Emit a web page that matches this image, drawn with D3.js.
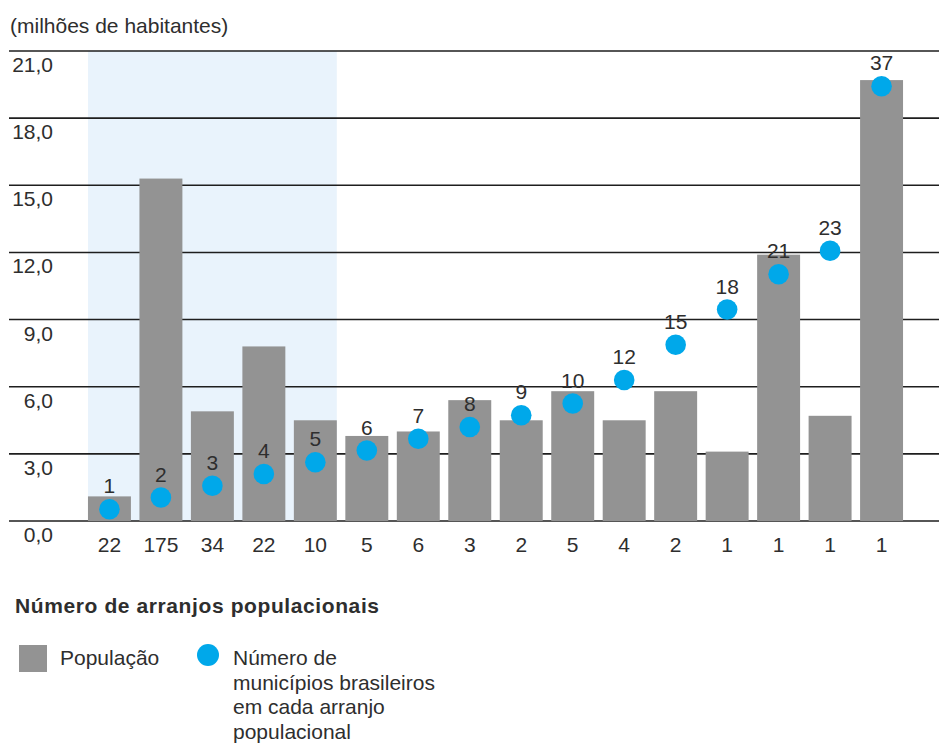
<!DOCTYPE html>
<html>
<head>
<meta charset="utf-8">
<script src="https://cdn.jsdelivr.net/npm/d3@7"></script>
<style>
  html, body { margin: 0; padding: 0; background: #fff; }
  svg { display: block; }
  text { font-family: "Liberation Sans", Arial, sans-serif; fill: #2e2e2e; }
</style>
</head>
<body>
<svg id="chart" width="939" height="745"></svg>
<script>
// ---- data ----
const arranjos = ["22", "175", "34", "22", "10", "5", "6", "3", "2", "5", "4", "2", "1", "1", "1", "1"];
const populacao = [1.1, 15.3, 4.9, 7.8, 4.5, 3.8, 4.0, 5.4, 4.5, 5.8, 4.5, 5.8, 3.1, 11.9, 4.7, 19.7];
const municipios = [1, 2, 3, 4, 5, 6, 7, 8, 9, 10, 12, 15, 18, 21, 23, 37];
const yTicks = [0, 3, 6, 9, 12, 15, 18, 21];
const highlighted = [0, 1, 2, 3, 4];
const unitLabel = "(milhões de habitantes)";
const legendTitle = "Número de arranjos populacionais";
const legendBar = "População";
const legendDotLines = ["Número de", "municípios brasileiros", "em cada arranjo", "populacional"];

// ---- styles ----
const barColor = "#939393";
const dotColor = "#00a8ea";
const shadeColor = "#e9f3fc";
const gridColor = "#1e1e1e";

const svg = d3.select("#chart");

const x = d3.scaleBand()
  .domain(d3.range(arranjos.length))
  .range([83.7, 907.3])
  .paddingInner(0.1655)
  .paddingOuter(0.0828);

const y = d3.scaleLinear().domain([0, 21]).range([521, 51]);
const yDot = d3.scaleLinear().domain([0, 40]).range([521, 51]);

// highlight band
const hx0 = x(highlighted[0]);
const hx1 = x(highlighted[highlighted.length - 1]) + x.bandwidth();
svg.append("rect")
  .attr("x", hx0).attr("y", y(21))
  .attr("width", hx1 - hx0).attr("height", y(0) - y(21))
  .attr("fill", shadeColor);

// unit label
svg.append("text")
  .attr("x", 10).attr("y", 33)
  .style("font-size", "21px")
  .text(unitLabel);

// grid lines
svg.append("g").selectAll("line")
  .data(yTicks).join("line")
  .attr("x1", 9).attr("x2", 939)
  .attr("y1", d => y(d)).attr("y2", d => y(d))
  .attr("stroke", gridColor).attr("stroke-width", 1.6);

// y tick labels
const fmt = d => d3.format(".1f")(d).replace(".", ",");
svg.append("g").selectAll("text")
  .data(yTicks).join("text")
  .attr("x", 53).attr("y", d => y(d) + 21)
  .attr("text-anchor", "end")
  .style("font-size", "21px")
  .text(fmt);

// bars
svg.append("g").selectAll("rect")
  .data(populacao).join("rect")
  .attr("x", (d, i) => x(i))
  .attr("y", d => y(d))
  .attr("width", x.bandwidth())
  .attr("height", d => y(0) - y(d))
  .attr("fill", barColor);

// x axis labels
const xAxis = d3.axisBottom(x).tickSize(0).tickPadding(0).tickFormat(i => arranjos[i]);
const gx = svg.append("g").attr("transform", `translate(0,${y(0)})`).call(xAxis);
gx.select(".domain").remove();
gx.selectAll("text")
  .attr("dy", null).attr("y", 31)
  .style("font-size", "21px")
  .style("font-family", "'Liberation Sans', Arial, sans-serif")
  .attr("fill", "#2e2e2e");

// dots
svg.append("g").selectAll("circle")
  .data(municipios).join("circle")
  .attr("cx", (d, i) => x(i) + x.bandwidth() / 2)
  .attr("cy", d => yDot(d))
  .attr("r", 10.3)
  .attr("fill", dotColor);

svg.append("g").selectAll("text")
  .data(municipios).join("text")
  .attr("x", (d, i) => x(i) + x.bandwidth() / 2)
  .attr("y", d => yDot(d) - 16)
  .attr("text-anchor", "middle")
  .style("font-size", "21px")
  .text(d => d);

// legend
svg.append("text")
  .attr("x", 15).attr("y", 613)
  .style("font-size", "21px").style("font-weight", "bold")
  .style("letter-spacing", "0.6px")
  .attr("fill", "#1a1a1a")
  .text(legendTitle);

svg.append("rect")
  .attr("x", 19).attr("y", 645).attr("width", 28).attr("height", 27)
  .attr("fill", barColor);
svg.append("text")
  .attr("x", 60).attr("y", 665)
  .style("font-size", "21px")
  .text(legendBar);

svg.append("circle")
  .attr("cx", 208).attr("cy", 655).attr("r", 11)
  .attr("fill", dotColor);
svg.append("g").selectAll("text")
  .data(legendDotLines).join("text")
  .attr("x", 233).attr("y", (d, i) => 665 + i * 24.5)
  .style("font-size", "21px")
  .text(d => d);
</script>
</body>
</html>
